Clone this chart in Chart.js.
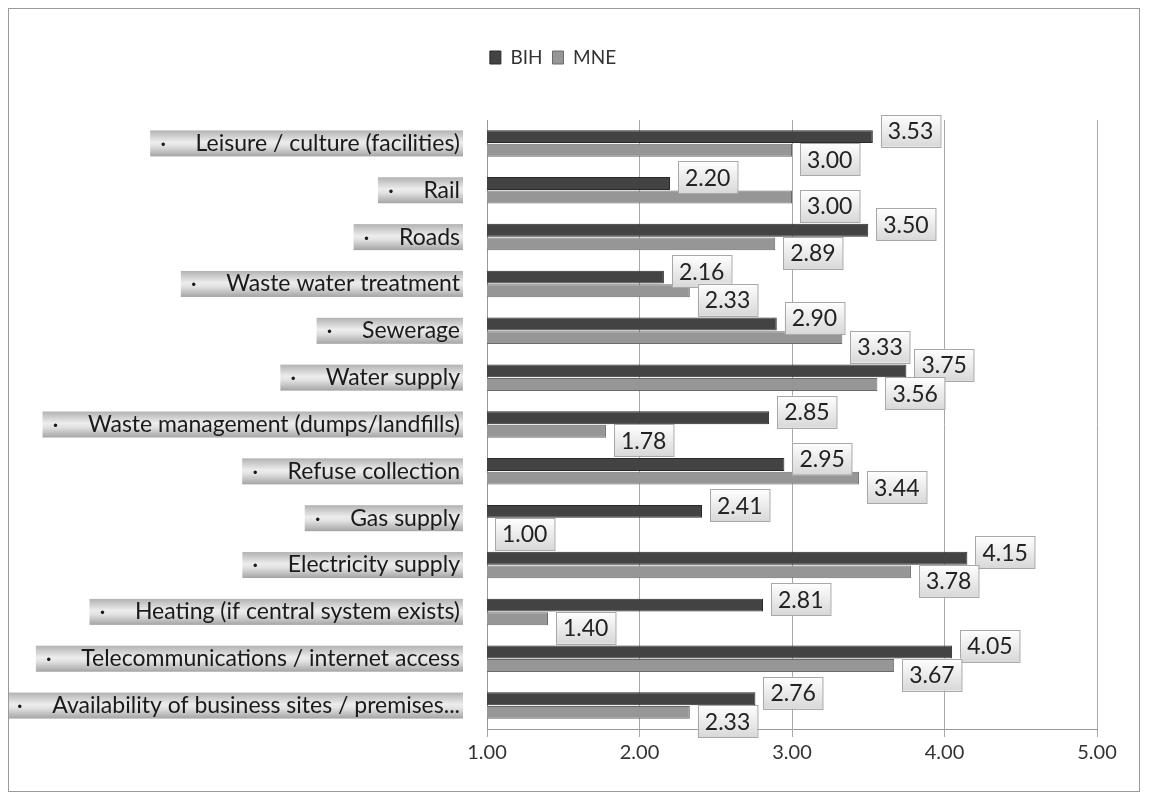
<!DOCTYPE html>
<html>
<head>
<meta charset="utf-8">
<script src="https://cdn.jsdelivr.net/npm/chart.js@4.4.1/dist/chart.umd.min.js"></script>
<style>
  html, body { margin: 0; padding: 0; background: #fff; }
  #wrap {
    position: absolute; left: 8px; top: 8px;
    width: 1132px; height: 784px;
    border: 1px solid #9a9a9a; box-sizing: border-box;
  }
  #chart { display: block; }
</style>
</head>
<body>
<div id="wrap"><canvas id="chart" width="1130" height="782"></canvas></div>
<script>
const categories = [
    "Leisure / culture (facilities)",
    "Rail",
    "Roads",
    "Waste water treatment",
    "Sewerage",
    "Water supply",
    "Waste management (dumps/landfills)",
    "Refuse collection",
    "Gas supply",
    "Electricity supply",
    "Heating (if central system exists)",
    "Telecommunications / internet access",
    "Availability of business sites / premises..."
];
const bihValues = [3.53, 2.20, 3.50, 2.16, 2.90, 3.75, 2.85, 2.95, 2.41, 4.15, 2.81, 4.05, 2.76];
const mneValues = [3.00, 3.00, 2.89, 2.33, 3.33, 3.56, 1.78, 3.44, 1.00, 3.78, 1.40, 3.67, 2.33];
const xTicks = [1, 2, 3, 4, 5];

const fam = "Lato, 'Open Sans', sans-serif";
const catFont = "23px " + fam;
const valFont = "23px " + fam;
const yPad = 27;

// extra room under the legend
const legendGap = {
    id: "legendGap",
    beforeInit(chart) {
        const fit = chart.legend.fit;
        chart.legend.fit = function () {
            fit.call(this);
            this.height = 82;
        };
    }
};

// grey band behind the category labels
const labelBands = {
    id: "labelBands",
    beforeDraw(chart) {
        const ctx = chart.ctx;
        const y = chart.scales.y;
        ctx.save();
        ctx.font = catFont;
        y.ticks.forEach((t, i) => {
            const py = y.getPixelForTick(i);
            const w = ctx.measureText(t.label).width;
            const textRight = y.right - yPad;
            const left = textRight - w - 10;
            const g = ctx.createLinearGradient(0, py - 13, 0, py + 13);
            g.addColorStop(0, "#b2b2b2");
            g.addColorStop(0.45, "#ededed");
            g.addColorStop(0.6, "#e2e2e2");
            g.addColorStop(1, "#a4a4a4");
            ctx.fillStyle = g;
            ctx.fillRect(left, py - 13, w + 13, 26);
        });
        ctx.restore();
    }
};

// boxed value labels
const valueBoxes = {
    id: "valueBoxes",
    afterDatasetsDraw(chart) {
        const ctx = chart.ctx;
        ctx.save();
        ctx.font = valFont;
        ctx.textBaseline = "middle";
        chart.data.datasets.forEach((ds, di) => {
            chart.getDatasetMeta(di).data.forEach((bar, i) => {
                const txt = ds.data[i].toFixed(2);
                const w = ctx.measureText(txt).width + 14;
                const h = 32;
                const x = bar.x + 8;
                const cy = di === 0 ? bar.y - 6 : bar.y + 9;
                const g = ctx.createLinearGradient(0, cy - h / 2, 0, cy + h / 2);
                g.addColorStop(0, "#ffffff");
                g.addColorStop(1, "#d8d8d8");
                ctx.fillStyle = g;
                ctx.fillRect(x, cy - h / 2, w, h);
                ctx.strokeStyle = "#a8a8a8";
                ctx.lineWidth = 1;
                ctx.strokeRect(Math.round(x) + 0.5, Math.round(cy - h / 2) + 0.5, w, h);
                ctx.fillStyle = "#222";
                ctx.fillText(txt, x + 7, cy + 1);
            });
        });
        ctx.restore();
    }
};

const ctx = document.getElementById("chart").getContext("2d");
new Chart(ctx, {
    type: "bar",
    data: {
        labels: categories.map(c => "·     " + c),
        datasets: [{
            label: "BIH",
            data: bihValues,
            backgroundColor: "#434343",
            borderColor: "#2a2a2a",
            borderWidth: 1,
            barPercentage: 0.95,
            categoryPercentage: 0.58
        }, {
            label: "MNE",
            data: mneValues,
            backgroundColor: "#969696",
            borderColor: "#6a6a6a",
            borderWidth: 1,
            barPercentage: 0.95,
            categoryPercentage: 0.58
        }]
    },
    options: {
        indexAxis: "y",
        responsive: false,
        animation: false,
        devicePixelRatio: 1,
        layout: { padding: { left: 0, right: 42, top: 29, bottom: 10 } },
        plugins: {
            legend: {
                position: "top",
                labels: {
                    boxWidth: 11, boxHeight: 13,
                    font: { family: fam, size: 19 },
                    color: "#333",
                    padding: 10
                }
            },
            tooltip: { enabled: false }
        },
        scales: {
            x: {
                min: 1, max: 5,
                afterBuildTicks(scale) { scale.ticks = xTicks.map(v => ({ value: v })); },
                afterFit(scale) { scale.height = 52; },
                ticks: {
                    callback: v => v.toFixed(2),
                    font: { family: fam, size: 20 },
                    color: "#333",
                    padding: 4
                },
                grid: { color: "#a8a8a8", drawTicks: true, tickLength: 8 },
                border: { color: "#999" }
            },
            y: {
                afterFit(scale) { scale.width = 478; },
                ticks: {
                    font: { family: fam, size: 23 },
                    color: "#1a1a1a",
                    padding: yPad
                },
                grid: { display: false, drawTicks: false, tickLength: 0 },
                border: { color: "#999" }
            }
        }
    },
    plugins: [legendGap, labelBands, valueBoxes]
});
</script>
</body>
</html>
